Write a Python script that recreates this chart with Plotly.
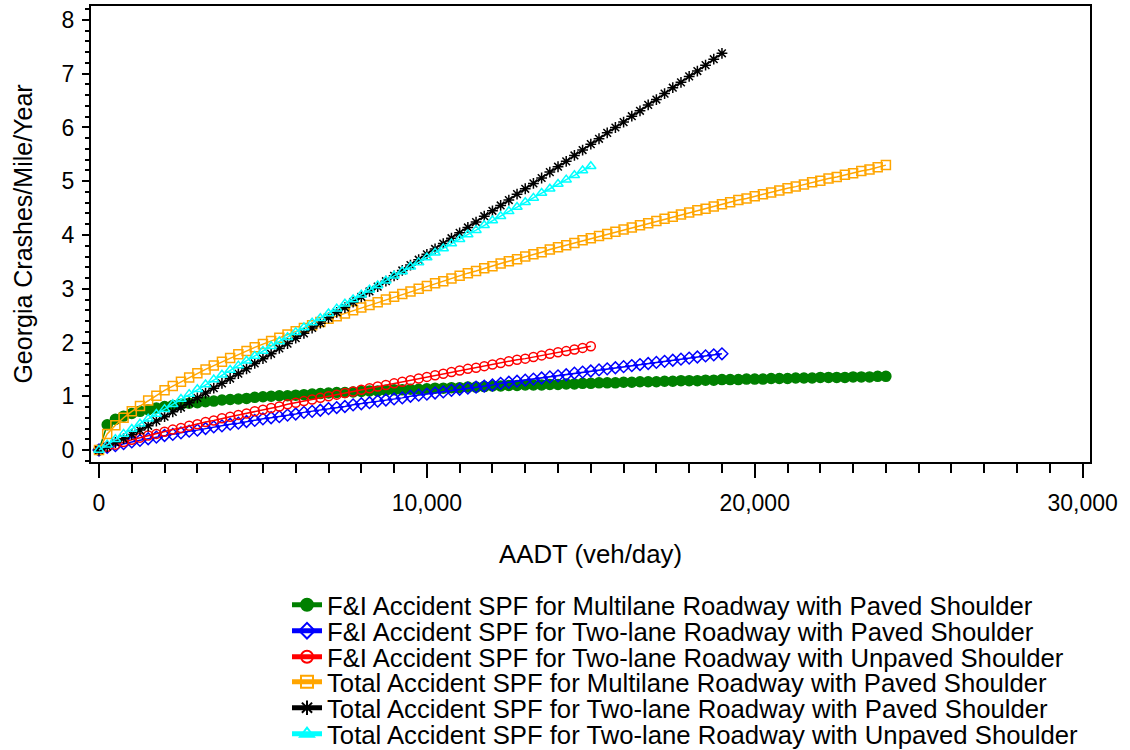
import plotly.graph_objects as go

aadt = [0, 250, 500, 750, 1000, 1250, 1500, 1750, 2000, 2250, 2500, 2750, 3000, 3250, 3500, 3750,
        4000, 4250, 4500, 4750, 5000, 5250, 5500, 5750, 6000, 6250, 6500, 6750, 7000, 7250, 7500, 7750,
        8000, 8250, 8500, 8750, 9000, 9250, 9500, 9750, 10000, 10250, 10500, 10750, 11000, 11250, 11500, 11750,
        12000, 12250, 12500, 12750, 13000, 13250, 13500, 13750, 14000, 14250, 14500, 14750, 15000, 15250, 15500, 15750,
        16000, 16250, 16500, 16750, 17000, 17250, 17500, 17750, 18000, 18250, 18500, 18750, 19000, 19250, 19500, 19750,
        20000, 20250, 20500, 20750, 21000, 21250, 21500, 21750, 22000, 22250, 22500, 22750, 23000, 23250, 23500, 23750,
        24000]

fi_multi_paved = [0, 0.47, 0.57, 0.63, 0.68, 0.72, 0.75, 0.78, 0.81, 0.83, 0.85, 0.87, 0.88, 0.90, 0.91, 0.93,
                  0.94, 0.95, 0.96, 0.98, 0.99, 1.00, 1.01, 1.01, 1.02, 1.03, 1.04, 1.05, 1.06, 1.07, 1.07, 1.08,
                  1.09, 1.10, 1.10, 1.11, 1.12, 1.12, 1.13, 1.13, 1.14, 1.15, 1.15, 1.16, 1.16, 1.17, 1.17, 1.18,
                  1.19, 1.19, 1.20, 1.20, 1.21, 1.21, 1.21, 1.22, 1.22, 1.23, 1.23, 1.24, 1.24, 1.25, 1.25, 1.25,
                  1.26, 1.26, 1.27, 1.27, 1.27, 1.28, 1.28, 1.29, 1.29, 1.29, 1.30, 1.30, 1.31, 1.31, 1.31, 1.32,
                  1.32, 1.32, 1.33, 1.33, 1.33, 1.34, 1.34, 1.34, 1.35, 1.35, 1.35, 1.35, 1.36, 1.36, 1.36, 1.37,
                  1.37]

fi_two_paved = [0, 0.05, 0.08, 0.12, 0.15, 0.18, 0.21, 0.24, 0.27, 0.29, 0.32, 0.35, 0.37, 0.40, 0.43, 0.45,
                0.48, 0.50, 0.53, 0.55, 0.58, 0.60, 0.62, 0.65, 0.67, 0.70, 0.72, 0.74, 0.77, 0.79, 0.81, 0.84,
                0.86, 0.88, 0.91, 0.93, 0.95, 0.97, 1.00, 1.02, 1.04, 1.06, 1.08, 1.11, 1.13, 1.15, 1.17, 1.19,
                1.21, 1.24, 1.26, 1.28, 1.30, 1.32, 1.34, 1.36, 1.38, 1.40, 1.43, 1.45, 1.47, 1.49, 1.51, 1.53,
                1.55, 1.57, 1.59, 1.61, 1.63, 1.65, 1.67, 1.69, 1.71, 1.73, 1.75, 1.77, 1.79]

fi_two_unpaved = [0, 0.06, 0.10, 0.15, 0.19, 0.23, 0.27, 0.30, 0.34, 0.38, 0.41, 0.45, 0.48, 0.52, 0.55, 0.59,
                  0.62, 0.65, 0.68, 0.72, 0.75, 0.78, 0.81, 0.85, 0.88, 0.91, 0.94, 0.97, 1.00, 1.03, 1.06, 1.09,
                  1.12, 1.15, 1.18, 1.21, 1.24, 1.27, 1.30, 1.33, 1.36, 1.39, 1.42, 1.45, 1.48, 1.51, 1.53, 1.56,
                  1.59, 1.62, 1.65, 1.68, 1.70, 1.73, 1.76, 1.79, 1.82, 1.84, 1.87, 1.90, 1.93]

tot_multi_paved = [0, 0.30, 0.46, 0.60, 0.72, 0.82, 0.92, 1.01, 1.11, 1.19, 1.27, 1.35, 1.43, 1.50, 1.57, 1.64,
                   1.71, 1.78, 1.84, 1.91, 1.97, 2.03, 2.09, 2.15, 2.21, 2.27, 2.32, 2.38, 2.44, 2.49, 2.54, 2.60,
                   2.65, 2.70, 2.75, 2.80, 2.85, 2.90, 2.95, 3.00, 3.05, 3.10, 3.14, 3.19, 3.24, 3.29, 3.33, 3.38,
                   3.42, 3.47, 3.51, 3.55, 3.60, 3.64, 3.68, 3.73, 3.77, 3.81, 3.85, 3.90, 3.94, 3.98, 4.02, 4.06,
                   4.10, 4.14, 4.18, 4.22, 4.26, 4.30, 4.34, 4.38, 4.42, 4.46, 4.49, 4.53, 4.57, 4.61, 4.65, 4.68,
                   4.72, 4.76, 4.79, 4.83, 4.87, 4.90, 4.94, 4.98, 5.01, 5.05, 5.08, 5.12, 5.15, 5.19, 5.22, 5.26,
                   5.30]

tot_two_paved = [0, 0.06, 0.14, 0.21, 0.29, 0.37, 0.45, 0.54, 0.62, 0.71, 0.79, 0.88, 0.97, 1.06, 1.15, 1.24,
                 1.33, 1.42, 1.51, 1.61, 1.70, 1.79, 1.89, 1.98, 2.08, 2.17, 2.27, 2.36, 2.46, 2.56, 2.65, 2.75,
                 2.85, 2.95, 3.04, 3.14, 3.24, 3.34, 3.44, 3.54, 3.64, 3.74, 3.84, 3.94, 4.04, 4.14, 4.24, 4.35,
                 4.45, 4.55, 4.65, 4.76, 4.86, 4.96, 5.06, 5.17, 5.27, 5.37, 5.48, 5.58, 5.69, 5.79, 5.90, 6.00,
                 6.10, 6.21, 6.31, 6.42, 6.52, 6.63, 6.74, 6.84, 6.95, 7.05, 7.16, 7.27, 7.38]

tot_two_unpaved = [0, 0.10, 0.20, 0.30, 0.39, 0.49, 0.58, 0.67, 0.76, 0.85, 0.95, 1.04, 1.13, 1.22, 1.31, 1.40,
                   1.49, 1.57, 1.66, 1.75, 1.84, 1.93, 2.02, 2.10, 2.19, 2.28, 2.37, 2.45, 2.54, 2.63, 2.72, 2.80,
                   2.89, 2.98, 3.06, 3.15, 3.24, 3.32, 3.41, 3.49, 3.58, 3.67, 3.75, 3.84, 3.92, 4.01, 4.09, 4.18,
                   4.27, 4.35, 4.44, 4.52, 4.61, 4.69, 4.78, 4.86, 4.95, 5.03, 5.11, 5.20, 5.28]

series_names = [
    "F&I Accident SPF for Multilane Roadway with Paved Shoulder",
    "F&I Accident SPF for Two-lane Roadway with Paved Shoulder",
    "F&I Accident SPF for Two-lane Roadway with Unpaved Shoulder",
    "Total Accident SPF for Multilane Roadway with Paved Shoulder",
    "Total Accident SPF for Two-lane Roadway with Paved Shoulder",
    "Total Accident SPF for Two-lane Roadway with Unpaved Shoulder",
]
series_values = [fi_multi_paved, fi_two_paved, fi_two_unpaved,
                 tot_multi_paved, tot_two_paved, tot_two_unpaved]
colors = ["#008000", "#0000FF", "#FF0000", "#FFA500", "#000000", "#00FFFF"]
symbols = ["circle", "diamond-open", "circle-open", "square-open", "asterisk-open", "triangle-up-open"]
sizes = [10, 9, 9, 9, 9, 9]

x_ticks = [0, 10000, 20000, 30000]
x_tick_text = ["0", "10,000", "20,000", "30,000"]
y_ticks = [0, 1, 2, 3, 4, 5, 6, 7, 8]

FONT = "Liberation Sans, Arial, sans-serif"

fig = go.Figure()
legend_ids = ["legend", "legend2", "legend3", "legend4", "legend5", "legend6"]
for i, (name, vals) in enumerate(zip(series_names, series_values)):
    fig.add_trace(go.Scatter(
        x=aadt[:len(vals)], y=vals, name=name, mode="lines+markers",
        line=dict(color=colors[i], width=1.5),
        marker=dict(symbol=symbols[i], size=sizes[i], color=colors[i],
                    line=dict(color=colors[i], width=1.5)),
        legend=legend_ids[i],
    ))

row_px = [605, 631, 657, 682, 708, 734]
plot_top, plot_bottom = 6, 462
legend_layout = {}
for i, lid in enumerate(legend_ids):
    legend_layout[lid] = dict(
        x=(287 - 91) / 999, xanchor="left",
        y=(plot_bottom - row_px[i]) / (plot_bottom - plot_top), yanchor="middle",
        font=dict(family=FONT, size=25.7, color="black"),
        bgcolor="rgba(0,0,0,0)", borderwidth=0, itemsizing="constant",
    )

fig.update_layout(
    width=1130, height=750,
    margin=dict(l=91, r=40, t=6, b=288, autoexpand=False),
    paper_bgcolor="white", plot_bgcolor="white",
    font=dict(family=FONT, size=22, color="black"),
    showlegend=True,
    **legend_layout,
)

fig.update_xaxes(
    range=[-244, 30225], tickmode="array", tickvals=x_ticks, ticktext=x_tick_text,
    showline=True, linecolor="black", linewidth=2, mirror=True, automargin=False,
    ticks="outside", ticklen=14, tickwidth=2, tickcolor="black",
    minor=dict(dtick=1000, tick0=0, ticks="outside", ticklen=9, tickwidth=2, tickcolor="black", showgrid=False),
    showgrid=False, zeroline=False,
    tickfont=dict(family=FONT, size=23), ticklabelstandoff=5,
    title=dict(text="AADT (veh/day)", font=dict(family=FONT, size=25.8), standoff=30),
)
fig.update_yaxes(
    range=[-0.223, 8.26], tickmode="array", tickvals=y_ticks,
    showline=True, linecolor="black", linewidth=2, mirror=True, automargin=False,
    ticks="outside", ticklen=7, tickwidth=2, tickcolor="black",
    minor=dict(dtick=0.2, tick0=0, ticks="outside", ticklen=4, tickwidth=2, tickcolor="black", showgrid=False),
    showgrid=False, zeroline=False,
    tickfont=dict(family=FONT, size=23), ticklabelstandoff=3,
    title=dict(text="Georgia Crashes/Mile/Year", font=dict(family=FONT, size=25), standoff=22),
)

fig.write_html(
    "out.html",
    config={"displayModeBar": False},
    post_script="document.body.style.margin='0';document.body.style.overflow='hidden';",
)
